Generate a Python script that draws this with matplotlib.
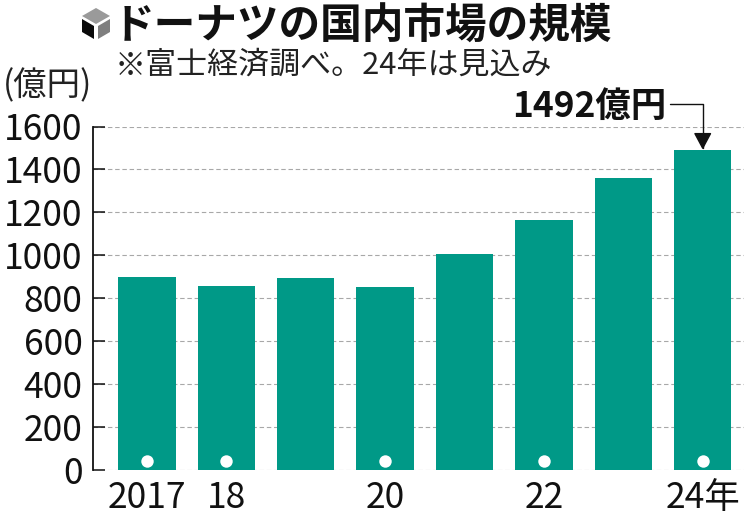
import matplotlib
matplotlib.use("Agg")
import matplotlib.pyplot as plt
from matplotlib.patches import Polygon

plt.rcParams['font.family'] = ['Noto Sans CJK JP', 'DejaVu Sans']

positions = [0, 1, 2, 3, 4, 5, 6, 7]
values = [899, 857, 894, 852, 1007, 1164, 1360, 1492]
tick_pos = [0, 1, 3, 5, 7]
tick_labels = ['2017', '18', '20', '22', '24年']
y_ticks = [0, 200, 400, 600, 800, 1000, 1200, 1400, 1600]
dot_y = [42, 42, 42, 42, 42]
title = 'ドーナツの国内市場の規模'
subtitle = '※富士経済調べ。24年は見込み'
unit = '(億円)'
callout = '1492億円'

W, H = 744, 516
fig = plt.figure(figsize=(W/100, H/100), dpi=100)
ax = fig.add_axes([93/W, 1-470/H, (W-93)/W, (470-126.5)/H])
ax.set_xlim(-0.68, 7.52)
ax.set_ylim(0, 1600)
ax.set_axisbelow(True)
ax.yaxis.grid(True, color='#a8a8a8', linestyle=(0, (4, 2.5)), linewidth=0.8)
ax.bar(positions, values, width=0.722, color='#009987', zorder=2)
ax.scatter(tick_pos, dot_y, s=80, color='white', linewidths=0, zorder=3, clip_on=False)
for s in ['top', 'right', 'bottom']:
    ax.spines[s].set_visible(False)
ax.spines['left'].set_linewidth(1.3)
ax.spines['left'].set_color('#111111')
ax.set_yticks(y_ticks)
ax.set_yticklabels([str(v) for v in y_ticks], fontsize=25.5, color='#111111')
ax.tick_params(axis='y', direction='in', length=8.5, width=1.1, pad=7.5, color='#111111')
ax.set_xticks(tick_pos)
ax.set_xticklabels(tick_labels, fontsize=25.5, color='#111111')
ax.tick_params(axis='x', length=0, pad=7)

def px(x, y):
    return (x/W, 1-y/H)

fig.text(*px(113, 27), title, fontsize=30, fontweight='bold', va='center', ha='left', color='#111111')
fig.text(*px(115, 65), subtitle, fontsize=22.3, va='center', ha='left', color='#222222')
fig.text(*px(3, 86), unit, fontsize=24, va='center', ha='left', color='#222222')
fig.text(*px(512, 106), callout, fontsize=25.5, fontweight='bold', va='center', ha='left', color='#111111')

ax.annotate('', xy=(7, values[7]), xycoords='data', xytext=(670/W, 1-103.5/H), textcoords='figure fraction',
            arrowprops=dict(arrowstyle='-|>,head_length=0.75,head_width=0.4', connectionstyle='angle,angleA=0,angleB=90,rad=0',
                            color='#111111', lw=1.0, shrinkA=0, shrinkB=0, mutation_scale=14), zorder=5)

# hexagonal cube icon
def poly(points, color):
    fig.add_artist(Polygon([px(*p) for p in points], closed=True, transform=fig.transFigure, facecolor=color, edgecolor='none'))
poly([(96, 8), (110, 16), (96, 24), (82, 16)], '#9a9a9a')
poly([(82, 19), (94, 26), (94, 39), (82, 32)], '#0a0a0a')
poly([(98, 26), (110, 19), (110, 32), (98, 39)], '#7f7f7f')

fig.savefig('out.png', dpi=100)
